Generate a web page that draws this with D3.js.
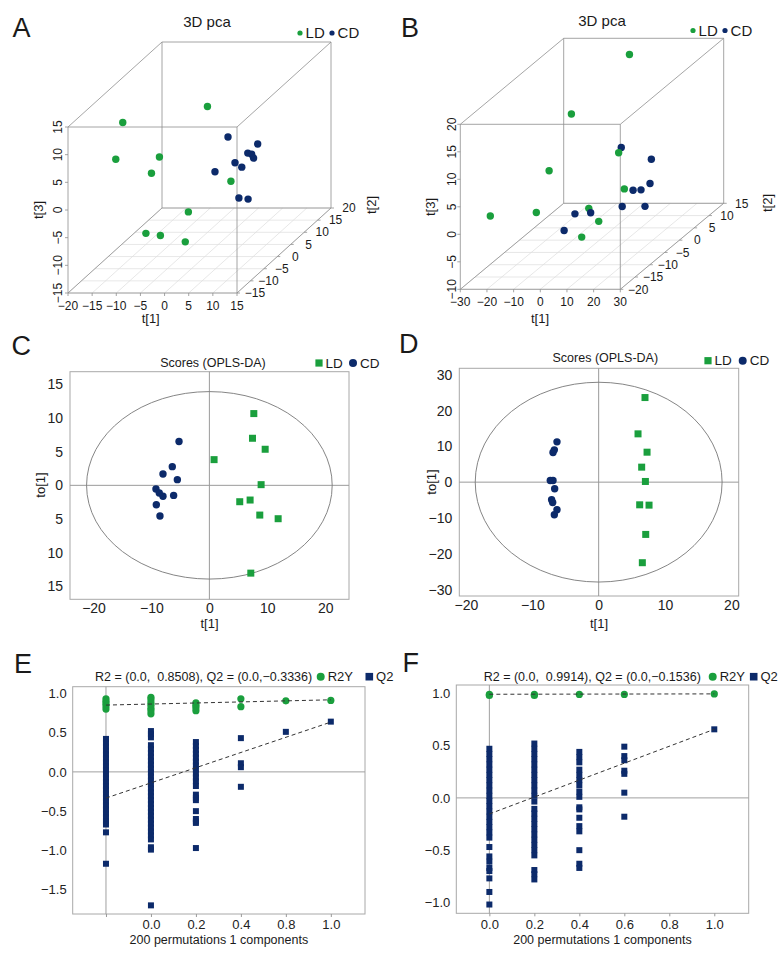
<!DOCTYPE html>
<html>
<head>
<meta charset="utf-8">
<script src="https://cdn.jsdelivr.net/npm/d3@7"></script>
<style>
body { margin: 0; background: #fff; }
svg { font-family: "Liberation Sans", Arial, sans-serif; }
.tick text { fill: #222; }
</style>
</head>
<body>
<svg id="fig" width="784" height="957"></svg>
<script>
var GREEN = "#1a9f3d", NAVY = "#0c2a6a";

// ---- A / B : 3D pca, points are [t1, t2, t3]
var aLD = [[-2.8, 6, 9.5], [-14.5, -4.5, 11.2], [-14.0, -8, 6.1], [-10.8, 2.5, 1.9], [-10.5, -1, 0.5],
           [7.9, -4.5, 0.6], [-8.7, 9.5, -11.1], [-13.6, 2.5, -11.9], [-10.6, 2.5, -12.3], [-3.5, -1, -11.9]];
var aCD = [[3.4, 2.5, 5.5], [7.6, 6, 2.7], [7.5, 2.5, 2.6], [8.3, 2.5, 2.4], [8.7, 2.5, 1.7],
           [6.8, -1, 2.4], [8.2, -1, 1.6], [4.6, -4.5, 2.3], [11.5, -8, -0.9], [13.4, -8, -1.1]];
var bLD = [[0.2, 10, 19.3], [-11.6, 1, 12.5], [10, -2.5, 7], [-12.2, -6, 5.3], [16, -6, 2],
           [-26.5, -13, 0.2], [-17, -6, -2.3], [-1.2, -2.5, -3.1], [6.4, -6, -3.9], [3.9, -9.5, -5.2]];
var bCD = [[7.1, 1, 6.4], [14.5, 4.5, 2.7], [14, 4.5, -1.7], [14.5, 1, -1.3], [15.4, -2.5, 0.2],
           [15.2, -6, -1.2], [16, 1, -4.3], [-6.4, -2.5, -4.1], [-0.5, -2.5, -3.9], [-2.7, -9.5, -4]];

// ---- C / D : OPLS-DA scores, points are [t1, to1]
var cLD = [[7.67, 10.64], [7.44, 6.98], [9.63, 5.35], [0.81, 3.81], [8.93, 0.10],
           [5.24, -2.43], [7.03, -2.18], [8.70, -4.41], [11.87, -4.95], [7.15, -13.02]];
var cCD = [[-5.24, 6.49], [-6.40, 2.77], [-8.01, 1.68], [-5.53, 0.84], [-9.22, -0.54],
           [-8.65, -1.14], [-8.01, -1.63], [-6.17, -1.49], [-9.16, -2.87], [-8.53, -4.55]];
var dLD = [[6.98, 23.63], [5.93, 13.49], [7.29, 8.37], [6.48, 4.19], [7.04, 0.19],
           [6.18, -6.33], [7.59, -6.42], [7.09, -14.6], [6.58, -22.5]];
var dCD = [[-6.28, 11.26], [-6.68, 9.02], [-6.88, 8.28], [-7.29, 0.47], [-6.88, 0.47],
           [-6.63, -1.86], [-7.09, -4.93], [-6.93, -5.67], [-6.28, -7.72], [-6.68, -9.12]];

// ---- E / F : permutation tests
var eCats = ["", "0.0", "0.2", "0.4", "0.8", "1.0"];
var ePos = [0, 1, 2, 3, 4, 5];
var eR2 = [[0.93, 0.90, 0.87, 0.84, 0.80],
           [0.95, 0.92, 0.88, 0.85, 0.81, 0.78, 0.74],
           [0.88, 0.85, 0.82, 0.78],
           [0.93, 0.83],
           [0.905],
           [0.91]];
var eQ2 = [[0.42, 0.37, 0.32, 0.27, 0.22, 0.17, 0.12, 0.07, 0.02, -0.03, -0.08, -0.13, -0.18, -0.23, -0.28,
            -0.33, -0.38, -0.43, -0.48, -0.53, -0.58, -0.63, -0.67, -0.77, -1.17],
           [0.52, 0.48, 0.44, 0.34, 0.29, 0.24, 0.19, 0.14, 0.09, 0.04, -0.01, -0.06, -0.11, -0.16, -0.21, -0.26,
            -0.31, -0.36, -0.41, -0.46, -0.51, -0.56, -0.61, -0.66, -0.71, -0.76, -0.81, -0.86, -0.96, -0.99, -1.70],
           [0.38, 0.33, 0.28, 0.23, 0.18, 0.13, 0.08, 0.03, -0.02, -0.07, -0.12, -0.18, -0.29, -0.33, -0.36,
            -0.50, -0.60, -0.63, -0.65, -0.97],
           [0.43, 0.11, 0.06, -0.19],
           [0.51],
           [0.64]];
var eR2Line = [[0, 0.8508], [5, 0.918]];
var eQ2Line = [[0, -0.3336], [5, 0.634]];

var fPos = [0, 0.2, 0.4, 0.6, 1.0];
var fR2 = [[0.99, 0.98], [0.99, 0.98], [0.99], [0.99], [0.995]];
var fQ2 = [[0.47, 0.42, 0.37, 0.32, 0.27, 0.22, 0.17, 0.12, 0.07, 0.02, -0.03, -0.08, -0.13, -0.18, -0.23,
            -0.28, -0.33, -0.38, -0.47, -0.56, -0.61, -0.67, -0.70, -0.77, -0.90, -1.02],
           [0.52, 0.47, 0.42, 0.37, 0.32, 0.27, 0.22, 0.17, 0.12, 0.07, 0.02, -0.035, -0.105, -0.15, -0.20,
            -0.25, -0.30, -0.35, -0.40, -0.45, -0.50, -0.55, -0.69, -0.73, -0.78],
           [0.44, 0.39, 0.34, 0.27, 0.22, 0.17, 0.12, 0.06, 0.01, -0.09, -0.11, -0.19, -0.27, -0.32, -0.50, -0.63, -0.67],
           [0.49, 0.40, 0.36, 0.26, 0.23, 0.05, -0.18],
           [0.656]];
var fR2Line = [[0, 0.9914], [1.0, 0.995]];
var fQ2Line = [[0, -0.1536], [1.0, 0.656]];

var svg = d3.select("#fig");

function txt(g, x, y, s, size, anchor, rot) {
    var t = g.append("text")
        .attr("font-size", size)
        .attr("text-anchor", anchor || "start")
        .attr("fill", "#1a1a1a")
        .text(s);
    if (rot) {
        t.attr("transform", "translate(" + x + "," + y + ") rotate(" + rot + ")").attr("dy", "0.35em");
    } else {
        t.attr("x", x).attr("y", y);
    }
    return t;
}

function seg(g, p, q, col, w) {
    return g.append("line")
        .attr("x1", p[0]).attr("y1", p[1])
        .attr("x2", q[0]).attr("y2", q[1])
        .attr("stroke", col).attr("stroke-width", w);
}

// legend: list of [shape, colour, label, x, half size]
function legend(g, items, y, size) {
    items.forEach(function (it) {
        if (it[0] == "circle") {
            g.append("circle").attr("cx", it[3]).attr("cy", y).attr("r", it[4]).attr("fill", it[1]);
        } else {
            g.append("rect").attr("x", it[3] - it[4]).attr("y", y - it[4])
                .attr("width", it[4] * 2).attr("height", it[4] * 2).attr("fill", it[1]);
        }
        txt(g, it[3] + it[4] + 3, y, it[2], size).attr("dy", "0.35em");
    });
}

function minus(v) { return String(v).replace("-", "\u2212"); }

function Pca3D(o, ld, cd) {
    var g = svg.append("g");
    var x = d3.scaleLinear().domain(o.t1).range([o.x0, o.x0 + o.w]);
    var z = d3.scaleLinear().domain(o.t3).range([o.y0, o.y0 - o.h]);
    var dep = d3.scaleLinear().domain(o.t2).range([0, 1]);
    var P = function (a, b, c) { return [x(a) + dep(b) * o.dx, z(c) + dep(b) * o.dy]; };
    var a0 = o.t1[0], a1 = o.t1[1], b0 = o.t2[0], b1 = o.t2[1], c0 = o.t3[0], c1 = o.t3[1];

    // floor grid
    x.ticks(7).forEach(function (t) { seg(g, P(t, b0, c0), P(t, b1, c0), "#dcdcdc", 0.7); });
    dep.ticks(7).forEach(function (t) { seg(g, P(a0, t, c0), P(a1, t, c0), "#dcdcdc", 0.7); });

    // cube wireframe
    [b0, b1].forEach(function (b) { [c0, c1].forEach(function (c) { seg(g, P(a0, b, c), P(a1, b, c), "#8e8e8e", 0.8); }); });
    [a0, a1].forEach(function (a) { [c0, c1].forEach(function (c) { seg(g, P(a, b0, c), P(a, b1, c), "#8e8e8e", 0.8); }); });
    [a0, a1].forEach(function (a) { [b0, b1].forEach(function (b) { seg(g, P(a, b, c0), P(a, b, c1), "#8e8e8e", 0.8); }); });

    // t1 axis
    x.ticks(7).forEach(function (t) {
        var p = P(t, b0, c0);
        seg(g, p, [p[0], p[1] + 3], "#8e8e8e", 0.8);
        txt(g, p[0], p[1] + 16.5, minus(t), 12, "middle");
    });
    // t3 axis
    z.ticks(7).forEach(function (t) {
        var p = P(a0, b0, t);
        seg(g, p, [p[0] - 3, p[1]], "#8e8e8e", 0.8);
        txt(g, p[0] - o.lab3, p[1], minus(t), 12, "middle", -90);
    });
    // t2 axis
    dep.ticks(7).forEach(function (t) {
        var p = P(a1, t, c0);
        seg(g, p, [p[0] + 3, p[1]], "#8e8e8e", 0.8);
        txt(g, p[0] + 18, p[1], minus(t), 12, "middle").attr("dy", "0.35em");
    });

    txt(g, o.ttl1[0], o.ttl1[1], "t[1]", 13, "middle").attr("dy", "0.35em");
    txt(g, o.ttl2[0], o.ttl2[1], "t[2]", 13, "middle", -90);
    txt(g, o.ttl3[0], o.ttl3[1], "t[3]", 13, "middle", -90);

    // points, far ones first
    var pts = ld.map(function (d) { return { d: d, c: GREEN }; })
        .concat(cd.map(function (d) { return { d: d, c: NAVY }; }));
    pts.sort(function (p, q) { return q.d[1] - p.d[1]; });
    g.selectAll("circle.pt").data(pts).enter().append("circle")
        .attr("class", "pt")
        .attr("cx", function (p) { return P(p.d[0], p.d[1], p.d[2])[0]; })
        .attr("cy", function (p) { return P(p.d[0], p.d[1], p.d[2])[1]; })
        .attr("r", 3.7)
        .attr("fill", function (p) { return p.c; });

    txt(g, o.title[0], o.title[1], "3D pca", 15, "middle");
    txt(g, o.letter[0], o.letter[1], o.name, 27);
    legend(g, [["circle", GREEN, "LD", o.leg[0], 2.6], ["circle", NAVY, "CD", o.leg[1], 2.6]], o.leg[2], 15);
}

function Scores(o, ld, cd) {
    var g = svg.append("g");
    var x = d3.scaleLinear().domain(o.xd).range([o.l, o.r]);
    var y = d3.scaleLinear().domain(o.yd).range([o.b, o.t]);

    g.append("rect").attr("x", o.l).attr("y", o.t).attr("width", o.r - o.l).attr("height", o.b - o.t)
        .attr("fill", "none").attr("stroke", "#a8a8a8").attr("stroke-width", 1);
    seg(g, [x(0), o.t], [x(0), o.b], "#9a9a9a", 1);
    seg(g, [o.l, y(0)], [o.r, y(0)], "#9a9a9a", 1);
    g.append("ellipse").attr("cx", x(0)).attr("cy", y(0))
        .attr("rx", x(o.ell[0]) - x(0)).attr("ry", y(0) - y(o.ell[1]))
        .attr("fill", "none").attr("stroke", "#777").attr("stroke-width", 0.9);

    var ax = g.append("g").attr("transform", "translate(0," + o.b + ")")
        .call(d3.axisBottom(x).tickValues(o.xt).tickSize(0).tickPadding(4));
    var ay = g.append("g").attr("transform", "translate(" + o.l + ",0)")
        .call(d3.axisLeft(y).tickValues(o.yt).tickFormat(o.yf).tickSize(0).tickPadding(7));
    [ax, ay].forEach(function (a) {
        a.select(".domain").remove();
        a.selectAll("text").attr("font-size", 14).attr("font-family", null);
    });

    g.selectAll("rect.ld").data(ld).enter().append("rect").attr("class", "ld")
        .attr("x", function (d) { return x(d[0]) - 3.5; })
        .attr("y", function (d) { return y(d[1]) - 3.5; })
        .attr("width", 7).attr("height", 7).attr("fill", GREEN);
    g.selectAll("circle.cd").data(cd).enter().append("circle").attr("class", "cd")
        .attr("cx", function (d) { return x(d[0]); })
        .attr("cy", function (d) { return y(d[1]); })
        .attr("r", 3.7).attr("fill", NAVY);

    txt(g, o.title[0], o.title[1], "Scores (OPLS-DA)", 12.5, "middle");
    txt(g, o.letter[0], o.letter[1], o.name, 27);
    txt(g, (o.l + o.r) / 2, o.xl, "t[1]", 13, "middle");
    txt(g, o.yl[0], o.yl[1], "to[1]", 13, "middle", -90);
    legend(g, [["rect", GREEN, "LD", o.leg[0], 3.6], ["circle", NAVY, "CD", o.leg[1], 4]], o.leg[2], 13.5);
}

function Perm(o, pos, r2, q2, r2line, q2line) {
    var g = svg.append("g");
    var x = d3.scaleLinear().domain(o.xd).range([o.l, o.r]);
    var y = d3.scaleLinear().domain(o.yd).range([o.b, o.t]);

    g.append("rect").attr("x", o.l).attr("y", o.t).attr("width", o.r - o.l).attr("height", o.b - o.t)
        .attr("fill", "none").attr("stroke", "#a8a8a8").attr("stroke-width", 1);
    seg(g, [x(0), o.t], [x(0), o.b], "#a0a0a0", 1);
    seg(g, [o.l, y(0)], [o.r, y(0)], "#a0a0a0", 1);

    var ax = g.append("g").attr("transform", "translate(0," + o.b + ")")
        .call(d3.axisBottom(x).tickValues(o.xt).tickFormat(o.xf).tickSize(3).tickPadding(3));
    var ay = g.append("g").attr("transform", "translate(" + o.l + ",0)")
        .call(d3.axisLeft(y).tickValues(o.yt).tickFormat(d3.format(".1f")).tickSize(0).tickPadding(6));
    [ax, ay].forEach(function (a) {
        a.select(".domain").remove();
        a.selectAll("line").attr("stroke", "#999");
        a.selectAll("text").attr("font-size", 13).attr("font-family", null);
    });

    pos.forEach(function (p, i) {
        g.selectAll(null).data(q2[i]).enter().append("rect")
            .attr("x", x(p) - 3).attr("y", function (v) { return y(v) - 3; })
            .attr("width", 6).attr("height", 6).attr("fill", NAVY);
        g.selectAll(null).data(r2[i]).enter().append("circle")
            .attr("cx", x(p)).attr("cy", function (v) { return y(v); })
            .attr("r", 3.6).attr("fill", GREEN);
    });

    var ln = d3.line().x(function (d) { return x(d[0]); }).y(function (d) { return y(d[1]); });
    [r2line, q2line].forEach(function (l) {
        g.append("path").attr("d", ln(l)).attr("fill", "none")
            .attr("stroke", "#333").attr("stroke-width", 1).attr("stroke-dasharray", "4,3");
    });

    txt(g, o.title[0], o.title[1], o.ttl, 12.5).style("white-space", "pre");
    txt(g, o.letter[0], o.letter[1], o.name, 27);
    txt(g, (o.l + o.r) / 2, o.xl, "200 permutations 1 components", 12.5, "middle");
    legend(g, [["circle", GREEN, "R2Y", o.leg[0], 4], ["rect", NAVY, "Q2", o.leg[1], 3.8]], o.leg[2], 13);
}

Pca3D({ name: "A", t1: [-20, 15], t2: [-15, 20], t3: [-15, 15],
        x0: 68, y0: 293, w: 169, h: 166, dx: 94, dy: -85, lab3: 10.5,
        ttl1: [150.7, 318], ttl2: [371.7, 205], ttl3: [38, 210],
        title: [207, 27], letter: [12.5, 36.7], leg: [300, 332, 33] }, aLD, aCD);

Pca3D({ name: "B", t1: [-30, 30], t2: [-20, 15], t3: [-10, 20],
        x0: 460.3, y0: 289.3, w: 160, h: 165, dx: 103.4, dy: -86, lab3: 8.5,
        ttl1: [540, 318], ttl2: [767, 203], ttl3: [430, 207],
        title: [602, 26], letter: [401, 36.7], leg: [693, 725, 30.5] }, bLD, bCD);

Scores({ name: "C", xd: [-24.06, 24.1], yd: [-16.9, 16.85], l: 70, r: 349, t: 371.7, b: 599.3,
         xt: [-20, -10, 0, 10, 20], yt: [-15, -10, -5, 0, 5, 10, 15], yf: function (v) { return Math.abs(v); },
         ell: [21.2, 13.9], title: [213, 367.3], letter: [11.5, 355], xl: 628, yl: [40, 485],
         leg: [319, 353, 363] }, cLD, cCD);

Scores({ name: "D", xd: [-21, 21.1], yd: [-31.8, 31.8], l: 459.3, r: 738.7, t: 368.3, b: 596,
         xt: [-20, -10, 0, 10, 20], yt: [-30, -20, -10, 0, 10, 20, 30], yf: d3.format(""),
         ell: [18.6, 27.9], title: [605.3, 362.3], letter: [399, 353.3], xl: 628, yl: [431, 482],
         leg: [708, 742.7, 360.7] }, dLD, dCD);

Perm({ name: "E", xd: [-0.74, 5.76], yd: [-1.81, 1.085], l: 72.7, r: 365, t: 686.7, b: 914,
       xt: ePos, xf: function (i) { return eCats[i]; }, yt: [-1.5, -1, -0.5, 0, 0.5, 1],
       ttl: "R2 = (0.0,  0.8508), Q2 = (0.0,\u22120.3336)", title: [95, 681], letter: [14, 673],
       xl: 943.5, leg: [320.7, 369.3, 676.7] }, ePos, eR2, eQ2, eR2Line, eQ2Line);

Perm({ name: "F", xd: [-0.147, 1.153], yd: [-1.104, 1.08], l: 456.3, r: 748.7, t: 685, b: 913.3,
       xt: [0, 0.2, 0.4, 0.6, 0.8, 1.0], xf: d3.format(".1f"), yt: [-1, -0.5, 0, 0.5, 1],
       ttl: "R2 = (0.0,  0.9914), Q2 = (0.0,\u22120.1536)", title: [483.7, 681], letter: [402.5, 672],
       xl: 943.5, leg: [712.7, 753.7, 676.7] }, fPos, fR2, fQ2, fR2Line, fQ2Line);
</script>
</body>
</html>
